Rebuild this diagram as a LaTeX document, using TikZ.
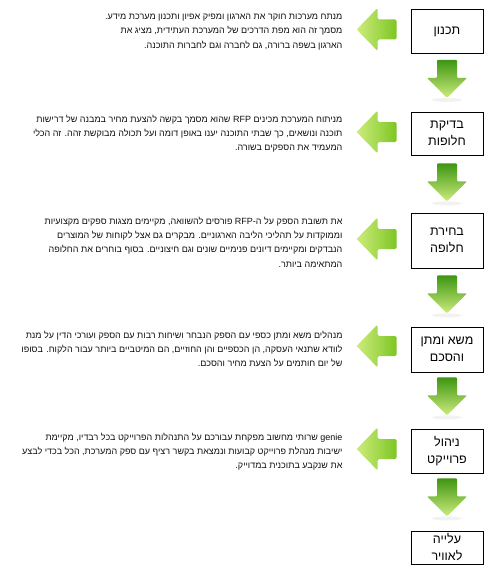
\documentclass[tikz,border=0pt]{standalone}
\usepackage{fontspec}
\setmainfont{Liberation Sans}
\newfontfamily\hebfont[Script=Hebrew]{Liberation Sans}
\TeXXeTstate=1
\usepackage{tikz}
\usetikzlibrary{calc, positioning}
\definecolor{arrowlight}{RGB}{205, 236, 125}
\definecolor{arrowmid}{RGB}{125, 198, 35}
\definecolor{arrowdark}{RGB}{62, 150, 18}
\definecolor{textcolor}{RGB}{15, 15, 15}
\newcommand{\heb}[1]{\beginR #1\endR}

\tikzset{
  stepbox/.style={draw, line width=0.8pt, fill=white, minimum width=72pt, inner sep=0pt, align=center, font=\hebfont\fontsize{12.5}{17}\selectfont},
  desc/.style={anchor=east, align=right, inner sep=0pt, text=textcolor, font=\hebfont\fontsize{9}{14.3}\selectfont},
  downarr/.pic={
    \fill[gray!25, opacity=0.4] (0,40) ellipse (15pt and 2pt);
    \shade[top color=arrowdark, bottom color=arrowlight, rounded corners=1pt] (-10,0) -- (10,0) -- (10,18) -- (20,18) -- (0,38) -- (-20,18) -- (-10,18) -- cycle;
  },
  leftarr/.pic={
    \shade[left color=arrowlight, right color=arrowmid, rounded corners=1.5pt] (0,0) -- (21,-21.5) -- (21,-10) -- (40,-10) -- (40,10) -- (21,10) -- (21,21.5) -- cycle;
  }
}

\begin{document}
\begin{tikzpicture}[x=1pt, y=-1pt]
    \useasboundingbox (0,0) rectangle (495,578);

    % Steps
    \node[stepbox, minimum height=44pt] (plan) at (447, 31.5) {\heb{תכנון}};
    \node[stepbox, minimum height=43pt] (check) at (447, 133.5) {\heb{בדיקת}\\\heb{חלופות}};
    \node[stepbox, minimum height=55pt] (choose) at (447, 240.5) {\heb{בחירת}\\\heb{חלופה}};
    \node[stepbox, minimum height=45pt] (deal) at (447, 349.5) {\heb{משא ומתן}\\\heb{והסכם}};
    \node[stepbox, minimum height=44pt] (manage) at (447, 451) {\heb{ניהול}\\\heb{פרוייקט}};
    \node[stepbox, minimum height=33pt] (live) at (447, 547.5) {\heb{עלייה}\\\heb{לאוויר}};

    % Flow arrows
    \pic at ($(plan.south)+(0,6)$) {downarr};
    \pic at ($(check.south)+(0,8)$) {downarr};
    \pic at ($(choose.south)+(0,7)$) {downarr};
    \pic at ($(deal.south)+(0,5)$) {downarr};
    \pic at ($(manage.south)+(0,5)$) {downarr};

    % Pointers to the descriptions
    \pic at ($(plan.west)+(-54,-2)$) {leftarr};
    \pic at ($(check.west)+(-54,-1.5)$) {leftarr};
    \pic at ($(choose.west)+(-54,-1.5)$) {leftarr};
    \pic at ($(deal.west)+(-54,-3.5)$) {leftarr};
    \pic at ($(manage.west)+(-54,-2)$) {leftarr};

    % Descriptions
    \node[desc] (plantext) at ($(plan.west)+(-68,0.5)$) {\heb{מנתח מערכות חוקר את הארגון ומפיק אפיון ותכנון מערכת מידע.}\\
      \heb{מסמך זה הוא מפת הדרכים של המערכת העתידית, מציג את}\\
      \heb{הארגון בשפה ברורה, גם לחברה וגם לחברות התוכנה.}};
    \node[desc] (checktext) at ($(check.west)+(-68,0)$) {\heb{מניתוח המערכת מכינים \beginL RFP\endL{} שהוא מסמך בקשה להצעת מחיר במבנה של דרישות}\\
      \heb{תוכנה ונושאים, כך שבתי התוכנה יענו באופן דומה ועל תכולה מבוקשת זהה. זה הכלי}\\
      \heb{המעמיד את הספקים בשורה.}};
    \node[desc] (choosetext) at ($(choose.west)+(-68,1.5)$) {\heb{את תשובת הספק על ה-\beginL RFP\endL{} פורסים להשוואה, מקיימים מצגות ספקים מקצועיות}\\
      \heb{וממוקדות על תהליכי הליבה הארגוניים. מבקרים גם אצל לקוחות של המוצרים}\\
      \heb{הנבדקים ומקיימים דיונים פנימיים שונים וגם חיצוניים. בסוף בוחרים את החלופה}\\
      \heb{המתאימה ביותר.}};
    \node[desc] (dealtext) at ($(deal.west)+(-68,-0.5)$) {\heb{מנהלים משא ומתן כספי עם הספק הנבחר ושיחות רבות עם הספק ועורכי הדין על מנת}\\
      \heb{לוודא שתנאי העסקה, הן הכספיים והן החוזיים, הם המיטביים ביותר עבור הלקוח. בסופו}\\
      \heb{של יום חותמים על הצעת מחיר והסכם.}};
    \node[desc] (managetext) at ($(manage.west)+(-68,0.5)$) {\heb{\beginL genie\endL{} שרותי מחשוב מפקחת עבורכם על התנהלות הפרוייקט בכל רבדיו, מקיימת}\\
      \heb{ישיבות מנהלת פרוייקט קבועות ונמצאת בקשר רציף עם ספק המערכת, הכל בכדי לבצע}\\
      \heb{את שנקבע בתוכנית במדוייק.}};
\end{tikzpicture}
\end{document}
